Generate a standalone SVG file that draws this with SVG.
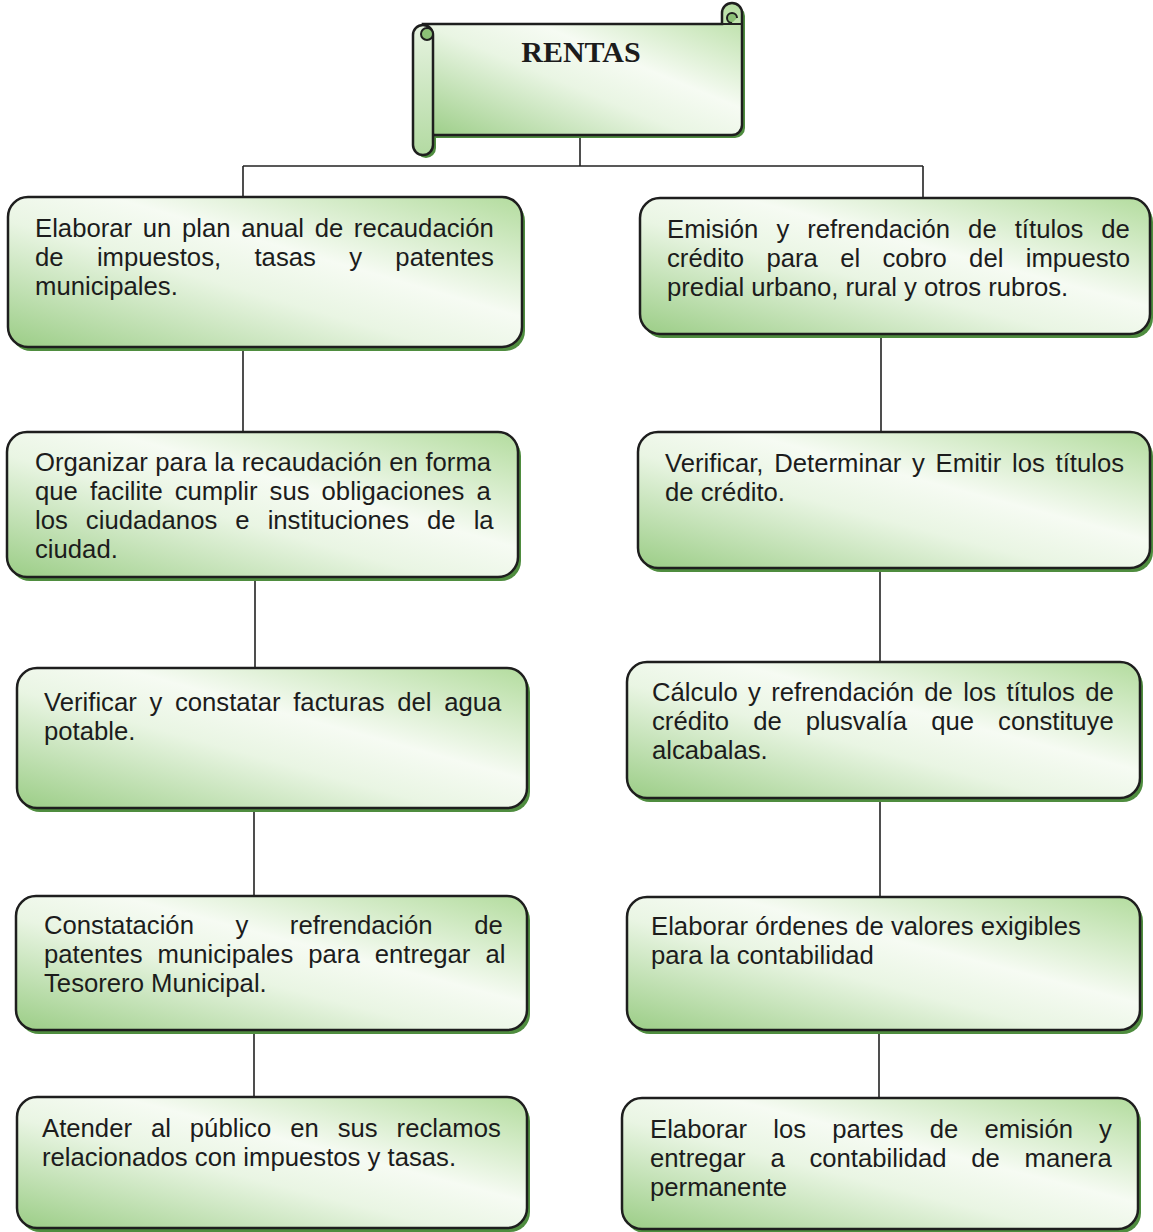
<svg xmlns="http://www.w3.org/2000/svg" width="1153" height="1232" viewBox="0 0 1153 1232">
  <defs>
    <linearGradient id="fillGreen" x1="0" y1="1" x2="1" y2="0">
      <stop offset="0" stop-color="#9bcd86"/>
      <stop offset="0.42" stop-color="#e9f5e3"/>
      <stop offset="0.6" stop-color="#f6fbf3"/>
      <stop offset="1" stop-color="#b3dc9e"/>
    </linearGradient>
    <linearGradient id="rollGreen" x1="0" y1="0" x2="0" y2="1">
      <stop offset="0" stop-color="#e6f3e0"/>
      <stop offset="1" stop-color="#b3daa2"/>
    </linearGradient>
    <style>
      .box { fill: url(#fillGreen); stroke: #1e1e1e; stroke-width: 2.5; }
      .sh { fill: #4f8d3f; }
      .t { font-family: "Liberation Sans", Arial, sans-serif; font-size: 25.7px; fill: #1c1c1c; }
      .title { font-family: "Liberation Serif", "Times New Roman", serif; font-size: 30px; font-weight: bold; fill: #1c1c1c; }
      .ln { stroke: #222; stroke-width: 1.6; fill: none; }
      .roll { fill: url(#rollGreen); stroke: #1e1e1e; stroke-width: 2.5; }
      .curl { fill: #8cc077; stroke: #1e1e1e; stroke-width: 2; }
    </style>
  </defs>

  <rect width="1153" height="1232" fill="#ffffff"/>

  <!-- connectors -->
  <g id="connectors">
    <line class="ln" x1="580" y1="135" x2="580" y2="166"/>
    <line class="ln" x1="243" y1="166" x2="923" y2="166"/>
    <line class="ln" x1="243" y1="166" x2="243" y2="197"/>
    <line class="ln" x1="923" y1="166" x2="923" y2="198"/>
    <line class="ln" x1="243" y1="347" x2="243" y2="432"/>
    <line class="ln" x1="255" y1="577" x2="255" y2="668"/>
    <line class="ln" x1="254" y1="808" x2="254" y2="896"/>
    <line class="ln" x1="254" y1="1030" x2="254" y2="1097"/>
    <line class="ln" x1="881" y1="334" x2="881" y2="432"/>
    <line class="ln" x1="880" y1="568" x2="880" y2="662"/>
    <line class="ln" x1="880" y1="798" x2="880" y2="897"/>
    <line class="ln" x1="879" y1="1030" x2="879" y2="1098"/>
  </g>

  <!-- title scroll -->
  <g id="n-rentas">
    <path class="sh" d="M 426,28 H 725 V 16 A 10,10 0 0 1 745,16 V 128 A 10,10 0 0 1 735,138 H 436 V 148 A 10,10 0 0 1 416,148 Z"/>
    <path class="box" d="M 423,24 H 722 V 13 A 10,10 0 0 1 742,13 V 125 A 10,10 0 0 1 732,135 H 433 Z"/>
    <path class="curl" d="M 732,23 A 5,5 0 0 1 732,13 A 5,5 0 0 1 737,18"/>
    <line class="ln" x1="722" y1="24" x2="742" y2="24" style="stroke-width:2"/>
    <rect class="roll" x="413" y="25" width="20" height="130" rx="10"/>
    <circle class="curl" cx="427" cy="34" r="6"/>
    <text class="title" x="581" y="62" text-anchor="middle">RENTAS</text>
  </g>

  <!-- left column -->
  <g id="n-plan-anual">
    <rect class="sh" x="11" y="201" width="514" height="150" rx="20"/>
    <rect class="box" x="8" y="197" width="514" height="150" rx="20"/>
    <text class="t" x="35" y="237" style="word-spacing:3.5px">Elaborar un plan anual de recaudación</text>
    <text class="t" x="35" y="266" style="word-spacing:26.2px">de impuestos, tasas y patentes</text>
    <text class="t" x="35" y="295">municipales.</text>
  </g>

  <g id="n-organizar">
    <rect class="sh" x="10" y="436" width="511" height="145" rx="20"/>
    <rect class="box" x="7" y="432" width="511" height="145" rx="20"/>
    <text class="t" x="35" y="471" style="word-spacing:0.4px">Organizar para la recaudación en forma</text>
    <text class="t" x="35" y="500" style="word-spacing:4.9px">que facilite cumplir sus obligaciones a</text>
    <text class="t" x="35" y="529" style="word-spacing:10.9px">los ciudadanos e instituciones de la</text>
    <text class="t" x="35" y="558">ciudad.</text>
  </g>

  <g id="n-agua">
    <rect class="sh" x="20" y="672" width="510" height="140" rx="20"/>
    <rect class="box" x="17" y="668" width="510" height="140" rx="20"/>
    <text class="t" x="44" y="711" style="word-spacing:5.5px">Verificar y constatar facturas del agua</text>
    <text class="t" x="44" y="740">potable.</text>
  </g>

  <g id="n-patentes">
    <rect class="sh" x="19" y="900" width="511" height="134" rx="20"/>
    <rect class="box" x="16" y="896" width="511" height="134" rx="20"/>
    <text class="t" x="44" y="934" style="word-spacing:34.4px">Constatación y refrendación de</text>
    <text class="t" x="44" y="963" style="word-spacing:7.9px">patentes municipales para entregar al</text>
    <text class="t" x="44" y="992">Tesorero Municipal.</text>
  </g>

  <g id="n-publico">
    <rect class="sh" x="20" y="1101" width="510" height="131" rx="20"/>
    <rect class="box" x="17" y="1097" width="510" height="131" rx="20"/>
    <text class="t" x="42" y="1137" style="word-spacing:11.8px">Atender al público en sus reclamos</text>
    <text class="t" x="42" y="1166">relacionados con impuestos y tasas.</text>
  </g>

  <!-- right column -->
  <g id="n-emision">
    <rect class="sh" x="643" y="202" width="510" height="136" rx="20"/>
    <rect class="box" x="640" y="198" width="510" height="136" rx="20"/>
    <text class="t" x="667" y="238" style="word-spacing:10.9px">Emisión y refrendación de títulos de</text>
    <text class="t" x="667" y="267" style="word-spacing:15.2px">crédito para el cobro del impuesto</text>
    <text class="t" x="667" y="296">predial urbano, rural y otros rubros.</text>
  </g>

  <g id="n-verificar">
    <rect class="sh" x="641" y="436" width="512" height="136" rx="20"/>
    <rect class="box" x="638" y="432" width="512" height="136" rx="20"/>
    <text class="t" x="665" y="472" style="word-spacing:3.6px">Verificar, Determinar y Emitir los títulos</text>
    <text class="t" x="665" y="501">de crédito.</text>
  </g>

  <g id="n-calculo">
    <rect class="sh" x="630" y="666" width="513" height="136" rx="20"/>
    <rect class="box" x="627" y="662" width="513" height="136" rx="20"/>
    <text class="t" x="652" y="701" style="word-spacing:3.2px">Cálculo y refrendación de los títulos de</text>
    <text class="t" x="652" y="730" style="word-spacing:16.9px">crédito de plusvalía que constituye</text>
    <text class="t" x="652" y="759">alcabalas.</text>
  </g>

  <g id="n-ordenes">
    <rect class="sh" x="630" y="901" width="513" height="133" rx="20"/>
    <rect class="box" x="627" y="897" width="513" height="133" rx="20"/>
    <text class="t" x="651" y="935">Elaborar órdenes de valores exigibles</text>
    <text class="t" x="651" y="964">para la contabilidad</text>
  </g>

  <g id="n-partes">
    <rect class="sh" x="625" y="1102" width="516" height="131" rx="20"/>
    <rect class="box" x="622" y="1098" width="516" height="131" rx="20"/>
    <text class="t" x="650" y="1138" style="word-spacing:19px">Elaborar los partes de emisión y</text>
    <text class="t" x="650" y="1167" style="word-spacing:17.6px">entregar a contabilidad de manera</text>
    <text class="t" x="650" y="1196">permanente</text>
  </g>
</svg>
